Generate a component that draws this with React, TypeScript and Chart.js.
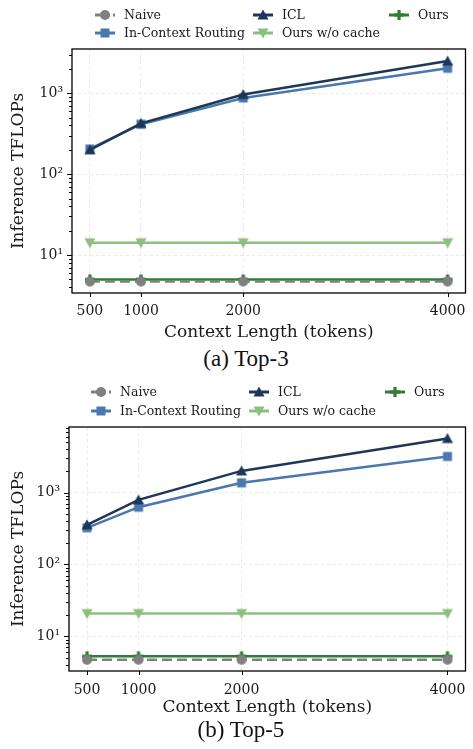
import React, { useEffect, useRef } from 'react';
import { Chart, registerables } from 'chart.js';

Chart.register(...registerables);

// ---------- data ----------
const contextLengths = [500, 1000, 2000, 4000];
const xTickValues = [500, 1000, 2000, 4000];
const seriesNames = ['Naive', 'In-Context Routing', 'ICL', 'Ours w/o cache', 'Ours'];
const yMajorLabels: Record<number, string> = { 1: '10¹', 2: '10²', 3: '10³' };

// (a) Top-3
const top3Naive = [4.7, 4.7, 4.7, 4.7];
const top3ICR = [205, 415, 875, 2035];
const top3ICL = [200, 425, 965, 2500];
const top3NoCache = [14.2, 14.2, 14.2, 14.2];
const top3Ours = [5.0, 5.0, 5.0, 5.0];

// (b) Top-5
const top5Naive = [4.7, 4.7, 4.7, 4.7];
const top5ICR = [323, 625, 1365, 3180];
const top5ICL = [355, 790, 2000, 5650];
const top5NoCache = [20.7, 20.7, 20.7, 20.7];
const top5Ours = [5.25, 5.25, 5.25, 5.25];

const captions = ['(a) Top-3', '(b) Top-5'];

// ---------- styles ----------
const COLORS = ['#808080', '#4a78ad', '#1e3759', '#8cc07f', '#2e7d32'];
const MARKERS = ['circle', 'rect', 'triangle', 'triangleDown', 'plus'];
const ORDERS = [0, 4, 3, 2, 1];
const SERIF = "'DejaVu Serif', serif";

function isPow10(v: number) {
  const l = Math.log10(v);
  return Math.abs(l - Math.round(l)) < 1e-9;
}

function drawMarker(ctx: CanvasRenderingContext2D, kind: string, x: number, y: number, color: string) {
  ctx.save();
  ctx.fillStyle = color;
  ctx.strokeStyle = color;
  ctx.setLineDash([]);
  ctx.beginPath();
  if (kind === 'circle') {
    ctx.arc(x, y, 5, 0, Math.PI * 2);
    ctx.fill();
  } else if (kind === 'rect') {
    ctx.fillRect(x - 4.5, y - 4.5, 9, 9);
  } else if (kind === 'triangle') {
    ctx.moveTo(x, y - 5.5);
    ctx.lineTo(x + 5.5, y + 4.5);
    ctx.lineTo(x - 5.5, y + 4.5);
    ctx.closePath();
    ctx.fill();
  } else if (kind === 'triangleDown') {
    ctx.moveTo(x, y + 5.5);
    ctx.lineTo(x + 5.5, y - 4.5);
    ctx.lineTo(x - 5.5, y - 4.5);
    ctx.closePath();
    ctx.fill();
  } else if (kind === 'plus') {
    ctx.fillRect(x - 5, y - 1.6, 10, 3.2);
    ctx.fillRect(x - 1.6, y - 5, 3.2, 10);
  }
  ctx.restore();
}

function markerCanvas(kind: string, color: string) {
  const c = document.createElement('canvas');
  c.width = 14;
  c.height = 14;
  const ctx = c.getContext('2d')!;
  drawMarker(ctx, kind, 7, 7, color);
  return c;
}

const framePlugin = {
  id: 'frameTicks',
  afterDatasetsDraw(chart: any) {
    const { ctx, chartArea: a, scales } = chart;
    ctx.save();
    ctx.strokeStyle = '#000';
    ctx.lineWidth = 1.3;
    ctx.setLineDash([]);
    ctx.strokeRect(a.left, a.top, a.right - a.left, a.bottom - a.top);
    ctx.lineWidth = 1;
    const y = scales.y;
    const lo = Math.floor(Math.log10(y.min));
    const hi = Math.ceil(Math.log10(y.max));
    ctx.beginPath();
    for (let d = lo; d <= hi; d++) {
      for (let k = 1; k <= 9; k++) {
        const v = k * Math.pow(10, d);
        if (v < y.min || v > y.max) continue;
        const py = Math.round(y.getPixelForValue(v)) + 0.5;
        const len = k === 1 ? 5 : 3;
        ctx.moveTo(a.left - len, py);
        ctx.lineTo(a.left, py);
      }
    }
    const x = scales.x;
    for (const v of xTickValues) {
      const px = Math.round(x.getPixelForValue(v)) + 0.5;
      ctx.moveTo(px, a.bottom);
      ctx.lineTo(px, a.bottom + 4);
    }
    ctx.stroke();
    ctx.restore();
  },
};

const gridLegendPlugin = {
  id: 'gridLegend',
  afterDraw(chart: any, _args: any, opts: any) {
    const { ctx } = chart;
    const cols: number[] = opts.cols;
    const rows: number[] = opts.rows;
    const order: number[] = opts.order;
    ctx.save();
    ctx.font = `12.5px ${SERIF}`;
    ctx.textBaseline = 'middle';
    ctx.textAlign = 'left';
    order.forEach((dsIndex, k) => {
      const ds = chart.data.datasets[dsIndex];
      const x0 = cols[k % 3];
      const yc = rows[Math.floor(k / 3)];
      ctx.save();
      ctx.strokeStyle = ds.borderColor;
      ctx.lineWidth = 3;
      ctx.setLineDash(ds.borderDash && ds.borderDash.length ? [6, 3] : []);
      ctx.beginPath();
      ctx.moveTo(x0, yc);
      ctx.lineTo(x0 + 20, yc);
      ctx.stroke();
      ctx.restore();
      drawMarker(ctx, MARKERS[dsIndex], x0 + 10, yc, COLORS[dsIndex]);
      ctx.fillStyle = '#1a1a1a';
      ctx.fillText(ds.label, x0 + 29, yc + 0.5);
    });
    ctx.restore();
  },
};

function makeDatasets(series: number[][]) {
  return series.map((vals, i) => ({
    label: seriesNames[i],
    data: contextLengths.map((x, j) => ({ x, y: vals[j] })),
    borderColor: COLORS[i],
    backgroundColor: COLORS[i],
    borderWidth: 2.5,
    borderDash: i === 0 ? [10, 5] : [],
    pointStyle: markerCanvas(MARKERS[i], COLORS[i]),
    pointRadius: 5,
    order: ORDERS[i],
    tension: 0,
  }));
}

type Layout = {
  width: number;
  height: number;
  padTop: number;
  padRight: number;
  yAxisWidth: number;
  xAxisHeight: number;
  xTickPad: number;
  yMin: number;
  yMax: number;
  legendCols: number[];
  legendRows: number[];
};

function ChartPanel({ series, layout, top, caption, captionX, captionTop }: any) {
  const ref = useRef<HTMLCanvasElement>(null);
  useEffect(() => {
    const L: Layout = layout;
    const chart = new Chart(ref.current!, {
      type: 'line',
      data: { datasets: makeDatasets(series) as any },
      options: {
        responsive: false,
        animation: false,
        devicePixelRatio: 1,
        layout: { padding: { top: L.padTop, right: L.padRight, left: 0, bottom: 0 } },
        font: { family: SERIF } as any,
        plugins: {
          legend: { display: false },
          tooltip: { enabled: false },
          gridLegend: { cols: L.legendCols, rows: L.legendRows, order: [0, 2, 4, 1, 3] },
        } as any,
        scales: {
          x: {
            type: 'linear',
            min: 325,
            max: 4175,
            afterBuildTicks: (s: any) => {
              s.ticks = xTickValues.map((v) => ({ value: v }));
            },
            afterFit: (s: any) => {
              s.height = L.xAxisHeight;
              s.paddingLeft = 0;
              s.paddingRight = 0;
            },
            ticks: {
              autoSkip: false,
              maxRotation: 0,
              padding: L.xTickPad,
              color: '#1a1a1a',
              font: { family: SERIF, size: 14 },
              callback: (v: any) => String(v),
            },
            grid: { color: '#e4e4e4', lineWidth: 0.8, drawTicks: false },
            border: { display: false, dash: [3, 3] },
            title: {
              display: true,
              text: 'Context Length (tokens)',
              color: '#1a1a1a',
              font: { family: SERIF, size: 17 },
              padding: { top: 0, bottom: 1.8 },
            },
          },
          y: {
            type: 'logarithmic',
            min: L.yMin,
            max: L.yMax,
            afterFit: (s: any) => {
              s.width = L.yAxisWidth;
              s.paddingTop = 0;
              s.paddingBottom = 0;
            },
            ticks: {
              autoSkip: false,
              padding: 9,
              color: '#1a1a1a',
              font: { family: SERIF, size: 14 },
              callback: (v: any) => {
                const n = Number(v);
                return isPow10(n) ? yMajorLabels[Math.round(Math.log10(n))] || '' : '';
              },
            },
            grid: {
              drawTicks: false,
              lineWidth: 0.8,
              color: (c: any) => (c.tick && isPow10(c.tick.value) ? '#e4e4e4' : 'rgba(0,0,0,0)'),
            },
            border: { display: false, dash: [3, 3] },
            title: {
              display: true,
              text: 'Inference TFLOPs',
              color: '#1a1a1a',
              font: { family: SERIF, size: 17 },
              padding: { top: 8.8, bottom: 0 },
            },
          },
        },
      },
      plugins: [framePlugin, gridLegendPlugin],
    });
    return () => chart.destroy();
  }, []);
  return (
    <>
      <canvas
        ref={ref}
        width={layout.width}
        height={layout.height}
        style={{ position: 'absolute', left: 0, top, width: layout.width, height: layout.height }}
      />
      <div
        style={{
          position: 'absolute',
          left: captionX - 100,
          width: 200,
          top: captionTop,
          textAlign: 'center',
          fontFamily: "'Liberation Serif', 'Times New Roman', serif",
          fontSize: 23,
          lineHeight: '26px',
          color: '#111',
          whiteSpace: 'nowrap',
        }}
      >
        {caption}
      </div>
    </>
  );
}

const layoutA: Layout = {
  width: 473,
  height: 345,
  padTop: 49,
  padRight: 2,
  yAxisWidth: 72,
  xAxisHeight: 52,
  xTickPad: 10.3,
  yMin: 3.4,
  yMax: 3525,
  legendCols: [95, 253, 389],
  legendRows: [15, 33],
};

const layoutB: Layout = {
  width: 473,
  height: 345,
  padTop: 52,
  padRight: 6,
  yAxisWidth: 69,
  xAxisHeight: 49,
  xTickPad: 10.8,
  yMin: 3.28,
  yMax: 8170,
  legendCols: [91, 249, 385],
  legendRows: [17, 36],
};

export default function App() {
  return (
    <div style={{ position: 'absolute', left: 0, top: 0, width: 473, height: 749, background: '#fff' }}>
      <ChartPanel
        series={[top3Naive, top3ICR, top3ICL, top3NoCache, top3Ours]}
        layout={layoutA}
        top={0}
        caption={captions[0]}
        captionX={246}
        captionTop={346}
      />
      <ChartPanel
        series={[top5Naive, top5ICR, top5ICL, top5NoCache, top5Ours]}
        layout={layoutB}
        top={375}
        caption={captions[1]}
        captionX={241}
        captionTop={717}
      />
    </div>
  );
}
